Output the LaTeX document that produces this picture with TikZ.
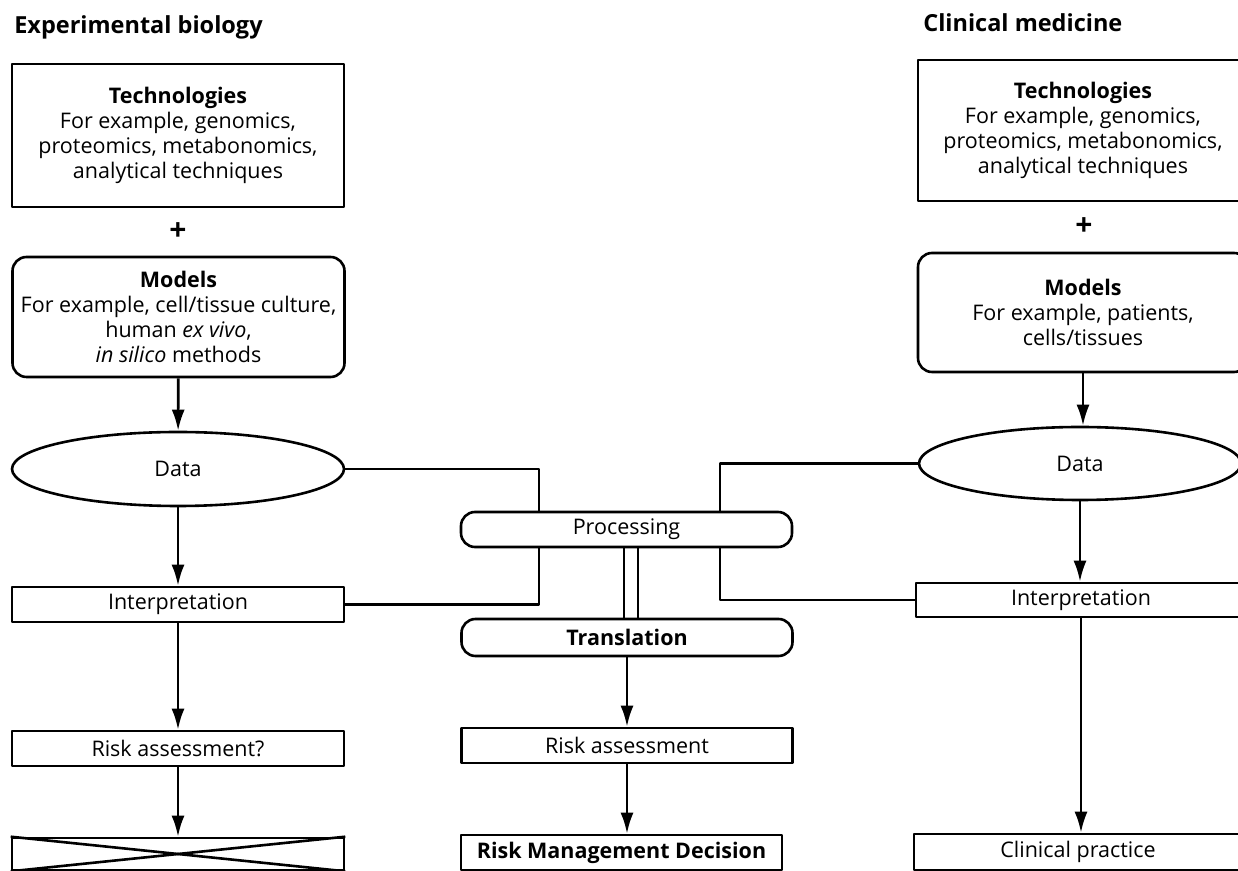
\documentclass[tikz,border=0pt]{standalone}
\usepackage{fontspec}
\setmainfont{Open Sans}
\usetikzlibrary{shapes.geometric,arrows.meta}

\tikzset{
  txt/.style={font=\fontsize{21.5bp}{25bp}\selectfont},
  box/.style={txt,draw,rectangle,inner sep=0pt,align=center,minimum width=332bp},
  rbox/.style={box,rounded corners=14bp},
  pill/.style={box,rounded corners=14bp},
  blob/.style={txt,draw,ellipse,inner sep=0pt},
  plussign/.style={font=\bfseries\fontsize{30bp}{30bp}\selectfont,inner sep=0pt},
  heading/.style={anchor=west,inner sep=0pt,font=\bfseries\fontsize{23.5bp}{27bp}\selectfont},
}

\begin{document}
\begin{tikzpicture}[>={Latex[length=21bp,width=13bp]},line join=bevel,line width=2.6bp]
  \useasboundingbox (0bp,0bp) rectangle (1238bp,871bp);
  \clip (0bp,0bp) rectangle (1238bp,871bp);
%%
  % Node: ExpTitle
  \node [heading] (ExpTitle) at (13bp,844bp) {Experimental biology};
  % Node: ClinTitle
  \node [heading] (ClinTitle) at (922bp,848bp) {Clinical medicine};
%
  % Node: ExpTech
  \node [box,minimum height=143bp] (ExpTech) at (178bp,735.5bp)
    {\textbf{Technologies}\\For example, genomics,\\proteomics, metabonomics,\\analytical techniques};
  % Node: ExpPlus
  \node [plussign] (ExpPlus) at (178bp,639bp) {+};
  % Node: ExpModels
  \node [rbox,minimum height=120bp] (ExpModels) at (178.5bp,554bp)
    {\textbf{Models}\\For example, cell/tissue culture,\\human \textit{ex vivo},\\\textit{in silico} methods};
  % Node: ExpData
  \node [blob,minimum width=332bp,minimum height=74bp] (ExpData) at (178bp,402bp) {Data};
  % Node: ExpInterp
  \node [box,minimum height=35bp] (ExpInterp) at (178bp,266.5bp) {Interpretation};
  % Node: ExpRisk
  \node [box,minimum height=35bp] (ExpRisk) at (178bp,122.5bp) {Risk assessment?};
  % Node: ExpCrossed
  \node [box,minimum height=32bp] (ExpCrossed) at (178bp,17bp) {};
  \draw (ExpCrossed.north west) -- (ExpCrossed.south east);
  \draw (ExpCrossed.north east) -- (ExpCrossed.south west);
%
  % Node: Processing
  \node [pill,minimum width=331bp,minimum height=35bp] (Processing) at (626.5bp,341.5bp) {Processing};
  % Node: Translation
  \node [pill,minimum width=331bp,minimum height=37bp] (Translation) at (627bp,233.5bp) {\textbf{Translation}};
  % Node: RiskAssess
  \node [box,minimum width=331bp,minimum height=35bp] (RiskAssess) at (627bp,125.5bp) {Risk assessment};
  % Node: RiskMgmt
  \node [box,minimum width=321bp,minimum height=35bp] (RiskMgmt) at (621.5bp,18.5bp) {\textbf{Risk Management Decision}};
%
  % Node: ClinTech
  \node [box,minimum width=330bp,minimum height=141bp] (ClinTech) at (1083bp,740.5bp)
    {\textbf{Technologies}\\For example, genomics,\\proteomics, metabonomics,\\analytical techniques};
  % Node: ClinPlus
  \node [plussign] (ClinPlus) at (1084bp,644bp) {+};
  % Node: ClinModels
  \node [rbox,minimum width=330bp,minimum height=119bp] (ClinModels) at (1083bp,558.5bp)
    {\textbf{Models}\\For example, patients,\\cells/tissues};
  % Node: ClinData
  \node [blob,minimum width=322bp,minimum height=73bp] (ClinData) at (1080bp,407.5bp) {Data};
  % Node: ClinInterp
  \node [box,minimum width=330bp,minimum height=34bp] (ClinInterp) at (1081bp,271bp) {Interpretation};
  % Node: ClinPractice
  \node [box,minimum width=328bp,minimum height=36bp] (ClinPractice) at (1078bp,19bp) {Clinical practice};
%
  % Edge: ExpModels -> ExpData -> ExpInterp -> ExpRisk -> ExpCrossed
  \draw [->] (ExpModels) -- (ExpData);
  \draw [->] (ExpData) -- (ExpInterp);
  \draw [->] (ExpInterp) -- (ExpRisk);
  \draw [->] (ExpRisk) -- (ExpCrossed);
  % Edge: ExpData -- Processing -- ExpInterp
  \draw (ExpData.east) -| ([xshift=-87.5bp]Processing.north);
  \draw ([xshift=-87.5bp]Processing.south) |- (ExpInterp.east);
  % Edge: ClinData -- Processing -- ClinInterp
  \draw (ClinData.west) -| ([xshift=93.5bp]Processing.north);
  \draw ([xshift=93.5bp]Processing.south) |- (ClinInterp.west);
  % Edge: Processing = Translation
  \draw ([xshift=-2.5bp]Processing.south) -- ([xshift=-2.5bp]Processing.south |- Translation.north);
  \draw ([xshift=11.5bp]Processing.south) -- ([xshift=11.5bp]Processing.south |- Translation.north);
  % Edge: Translation -> RiskAssess -> RiskMgmt
  \draw [->] (Translation) -- (RiskAssess);
  \draw [->] (RiskAssess.south) -- (RiskAssess.south |- RiskMgmt.north);
  % Edge: ClinModels -> ClinData -> ClinInterp -> ClinPractice
  \draw [->] (ClinModels.south) -- (ClinModels.south |- ClinData.north);
  \draw [->] (ClinData.south) -- (ClinData.south |- ClinInterp.north);
  \draw [->] (ClinInterp.south) -- (ClinInterp.south |- ClinPractice.north);
%
\end{tikzpicture}
\end{document}
